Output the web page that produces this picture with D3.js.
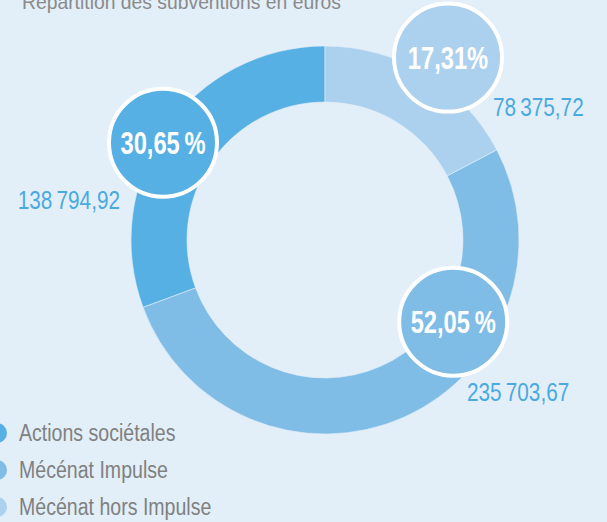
<!DOCTYPE html>
<html>
<head>
<meta charset="utf-8">
<script src="https://cdn.jsdelivr.net/npm/d3@7"></script>
<style>
  html, body { margin: 0; padding: 0; background: #e2eff9; overflow: hidden; }
  svg { display: block; }
  text { font-family: "Liberation Sans", Arial, sans-serif; }
</style>
</head>
<body>
<div id="container"></div>
<script>
// data (legend order)
var categories = ["Actions sociétales", "Mécénat Impulse", "Mécénat hors Impulse"];
var amounts = [138794.92, 235703.67, 78375.72];
var amountLabels = ["138\u202F794,92", "235\u202F703,67", "78\u202F375,72"];
var percentLabels = ["30,65\u202F%", "52,05\u202F%", "17,31%"];
var colors = ["#56b0e3", "#7fbce6", "#acd1ee"];

var title = "Répartition des subventions en euros";

var width = 607,
    height = 522;

var cx = 325, cy = 240;
var outerR = 194, innerR = 138;

// badge / value label placement (degrees clockwise from top, distance from centre)
var badgeAngle = [301, 122.5, 34];
var badgeDist = [189, 152, 220];
var valuePos = [[120, 209, "end"], [467, 401, "start"], [493, 116, "start"]];

// the original uses a condensed face: squeeze the glyphs
function condense(sel, k) {
    sel.each(function() {
        var w = this.getComputedTextLength();
        d3.select(this)
            .attr("textLength", w * k)
            .attr("lengthAdjust", "spacingAndGlyphs");
    });
}

var svg = d3.select("#container").append("svg")
    .attr("width", width)
    .attr("height", height);

// title (cut off at the top in the original)
svg.append("text")
    .attr("x", 22)
    .attr("y", 9)
    .attr("fill", "#8a8a8a")
    .style("font-size", "21px")
    .text(title)
    .call(condense, 0.92);

var pie = d3.pie()
    .sort(null)
    .startAngle(0)
    .endAngle(-2 * Math.PI)
    .value(d => d);

var arc = d3.arc()
    .innerRadius(innerR)
    .outerRadius(outerR);

var g = svg.append("g")
    .attr("transform", "translate(" + cx + "," + cy + ")");

var arcs = pie(amounts);

g.selectAll("path")
    .data(arcs)
    .enter().append("path")
    .attr("d", arc)
    .attr("fill", (d, i) => colors[i])
    .attr("stroke", "#e2eff9")
    .attr("stroke-width", 0.6);

// badges
var badges = g.selectAll(".badge")
    .data(arcs)
    .enter().append("g")
    .attr("class", "badge")
    .attr("transform", function(d, i) {
        var a = badgeAngle[i] * Math.PI / 180;
        return "translate(" + (Math.sin(a) * badgeDist[i]) + "," + (-Math.cos(a) * badgeDist[i]) + ")";
    });

badges.append("circle")
    .attr("r", 54)
    .attr("fill", (d, i) => colors[i])
    .attr("stroke", "#ffffff")
    .attr("stroke-width", 4);

badges.append("text")
    .attr("text-anchor", "middle")
    .attr("dy", "0.36em")
    .attr("fill", "#ffffff")
    .style("font-size", "32px")
    .style("font-weight", "bold")
    .text((d, i) => percentLabels[i])
    .call(condense, 0.74);

// amount labels
svg.selectAll(".amount")
    .data(amountLabels)
    .enter().append("text")
    .attr("class", "amount")
    .attr("x", (d, i) => valuePos[i][0])
    .attr("y", (d, i) => valuePos[i][1])
    .attr("text-anchor", (d, i) => valuePos[i][2])
    .attr("fill", "#4aa9e0")
    .style("font-size", "25px")
    .text(d => d)
    .call(condense, 0.83);

// legend
var legend = svg.selectAll(".legend")
    .data(categories)
    .enter().append("g")
    .attr("class", "legend")
    .attr("transform", (d, i) => "translate(0," + (433 + i * 37) + ")");

legend.append("circle")
    .attr("cx", -3)
    .attr("r", 10)
    .attr("fill", (d, i) => colors[i]);

legend.append("text")
    .attr("x", 19)
    .attr("dy", "0.35em")
    .attr("fill", "#808080")
    .style("font-size", "23px")
    .text(d => d)
    .call(condense, 0.85);
</script>
</body>
</html>
